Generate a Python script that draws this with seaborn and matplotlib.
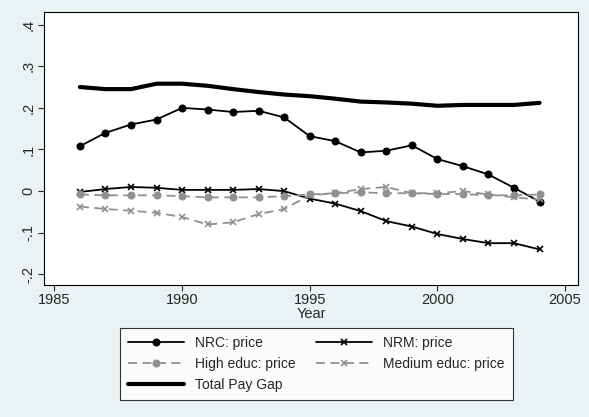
import numpy as np
import pandas as pd
import matplotlib
matplotlib.use("Agg")
import matplotlib.pyplot as plt
import seaborn as sns

years = list(range(1986, 2005))
nrc = [.108, .14, .16, .172, .2, .196, .19, .193, .177, .132, .12, .093, .097, .11, .077, .06, .04, .008, -.025]
nrm = [-.002, .005, .01, .008, .003, .003, .003, .005, 0, -.018, -.03, -.048, -.072, -.085, -.103, -.115, -.125, -.125, -.14]
high = [-.008, -.01, -.01, -.01, -.012, -.015, -.015, -.015, -.012, -.008, -.005, -.003, -.005, -.005, -.007, -.007, -.01, -.01, -.008]
medium = [-.037, -.043, -.047, -.052, -.062, -.08, -.075, -.055, -.043, -.01, -.005, .005, .01, -.005, -.005, 0, -.008, -.015, -.02]
total = [.25, .245, .245, .258, .258, .253, .245, .238, .232, .228, .222, .215, .213, .21, .205, .207, .207, .207, .212]

df = pd.DataFrame({"Year": years, "nrc": nrc, "nrm": nrm, "high": high, "medium": medium, "total": total})

sns.set_style("ticks")
plt.rcParams['font.family'] = ['Liberation Sans', 'DejaVu Sans']
fig = plt.figure(figsize=(5.89, 4.17), dpi=100, facecolor="#eaf2f3")
ax = fig.add_axes([0.075, 0.317, 0.906, 0.654])
ax.set_facecolor("white")

grey = "#909090"
sns.lineplot(data=df, x="Year", y="nrc", ax=ax, color="black", marker="o", markersize=5,
             mec="black", lw=1.3, label="NRC: price")
sns.lineplot(data=df, x="Year", y="nrm", ax=ax, color="black", marker="x", markersize=5,
             mec="black", mew=1.2, lw=1.3, label="NRM: price")
sns.lineplot(data=df, x="Year", y="high", ax=ax, color=grey, marker="o", markersize=5,
             mec=grey, lw=1.3, linestyle=(0, (5, 3)), label="High educ: price")
sns.lineplot(data=df, x="Year", y="medium", ax=ax, color=grey, marker="x", markersize=5,
             mec=grey, mew=1.2, lw=1.3, linestyle=(0, (5, 3)), label="Medium educ: price")
sns.lineplot(data=df, x="Year", y="total", ax=ax, color="black", lw=3, label="Total Pay Gap")

ax.set_xlim(1984.6, 2005.5)
ax.set_ylim(-0.225, 0.43)
ax.set_xticks([1985, 1990, 1995, 2000, 2005])
ax.set_yticks([-.2, -.1, 0, .1, .2, .3, .4])
ax.set_yticklabels(["-.2", "-.1", "0", ".1", ".2", ".3", ".4"], rotation=90, va="center")
ax.set_xlabel("Year", fontsize=10.5, labelpad=0)
ax.set_ylabel("")
ax.tick_params(labelsize=10.5, direction="out", length=4, pad=2)
for s in ax.spines.values():
    s.set_visible(True)
    s.set_color("black")
    s.set_linewidth(0.8)

ax.legend_.remove()
h, l = ax.get_legend_handles_labels()
order = [0, 2, 4, 1, 3]
leg = fig.legend([h[i] for i in order], [l[i] for i in order], ncol=2, loc="center",
                 bbox_to_anchor=(0.537, 0.127), frameon=True, fancybox=False,
                 edgecolor="black", fontsize=10, handlelength=4, columnspacing=1.5,
                 borderpad=0.6, labelspacing=0.5)
leg.get_frame().set_linewidth(0.8)
leg.get_frame().set_facecolor("white")

fig.savefig("out.png", dpi=100, facecolor=fig.get_facecolor())
